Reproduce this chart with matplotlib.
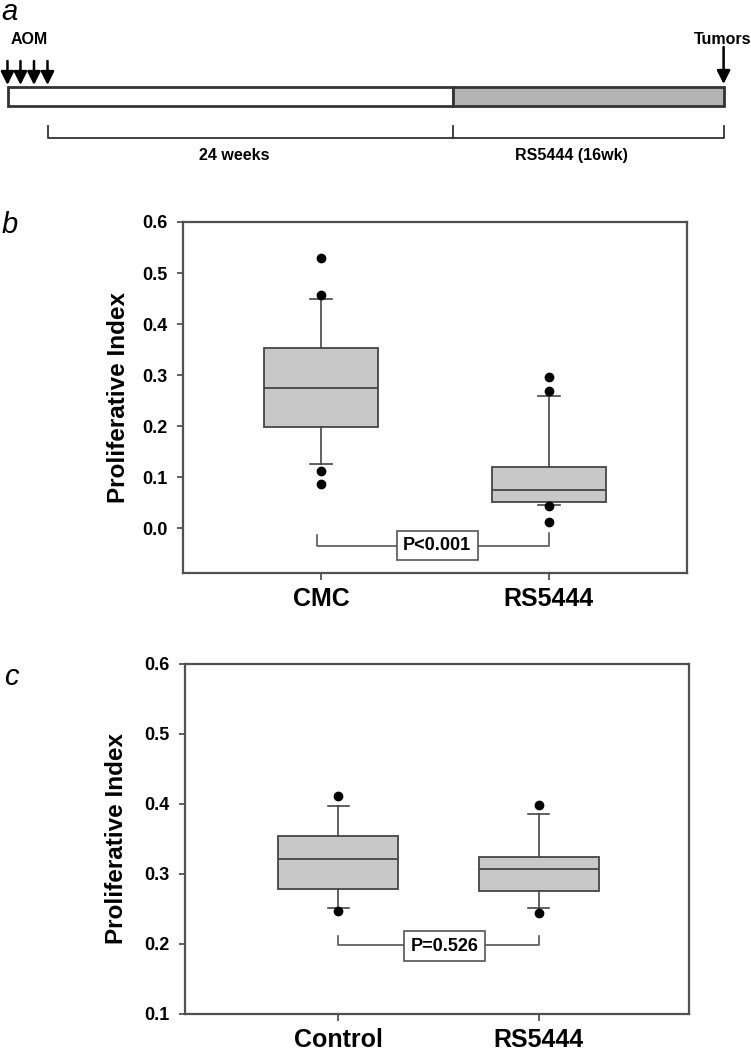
import matplotlib.pyplot as plt
from matplotlib.patches import Rectangle
from matplotlib.ticker import FormatStrFormatter

plt.rcParams['font.family'] = ['Liberation Sans', 'DejaVu Sans']

# ---------------------------------
# Datos panel a (semanas)
# ---------------------------------
fases = ['24 weeks', 'RS5444 (16wk)']
fases_sem = [24, 16]
aom_sem = [-2.40, -1.63, -0.83, -0.03]

# ---------------------------------
# Datos panel b
# ---------------------------------
grupos_b = ['CMC', 'RS5444']
q1_b = [0.199, 0.052]
med_b = [0.275, 0.074]
q3_b = [0.354, 0.120]
whislo_b = [0.125, 0.045]
whishi_b = [0.449, 0.258]
fliers_b = [[0.530, 0.456, 0.112, 0.086], [0.297, 0.269, 0.043, 0.012]]
p_b = 'P<0.001'

# ---------------------------------
# Datos panel c
# ---------------------------------
grupos_c = ['Control', 'RS5444']
q1_c = [0.279, 0.276]
med_c = [0.321, 0.307]
q3_c = [0.355, 0.325]
whislo_c = [0.252, 0.252]
whishi_c = [0.397, 0.386]
fliers_c = [[0.412, 0.247], [0.399, 0.245]]
p_c = 'P=0.526'

gris_caja = '#c8c8c8'
gris_linea = '#454545'

fig = plt.figure(figsize=(7.51, 10.5), dpi=100)

# ---------------------------------
# Panel a: linea de tiempo
# ---------------------------------
px_sem = 16.89
axa = fig.add_axes([0, 1 - 180/1050, 1, 180/1050])
axa.set_xlim(-48/px_sem, (751 - 48)/px_sem)
axa.set_ylim(180, 0)
axa.axis('off')

fin = sum(fases_sem)
inicio = -2.35
axa.add_patch(Rectangle((inicio, 87.3), fases_sem[0] - inicio, 18.7,
                        facecolor='white', edgecolor='#333333', lw=2))
axa.add_patch(Rectangle((fases_sem[0], 87.3), fases_sem[1], 18.7,
                        facecolor='#b4b4b4', edgecolor='#333333', lw=2))

flecha = dict(arrowstyle='-|>,head_width=0.4,head_length=0.8',
              mutation_scale=10, lw=1.8, color='black', shrinkA=0, shrinkB=0)
for w in aom_sem:
    axa.annotate('', xy=(w, 85), xytext=(w, 61), arrowprops=flecha)
axa.annotate('', xy=(fin, 84), xytext=(fin, 47), arrowprops=flecha)

axa.text(-1.12, 39, 'AOM', ha='center', va='center', fontsize=11.5, fontweight='bold')
axa.text((751 - 48)/px_sem, 39, 'Tumors', ha='right', va='center',
         fontsize=11.5, fontweight='bold')

# corchete de fases
axa.plot([0, 0, fin, fin], [126, 138, 138, 126], color='#333333', lw=1.3)
axa.plot([fases_sem[0], fases_sem[0]], [126, 138], color='#333333', lw=1.3)
izq = 0
for nombre, dur in zip(fases, fases_sem):
    axa.text(izq + dur/2 - 1.0, 155, nombre, ha='center', va='center',
             fontsize=11.5, fontweight='bold')
    izq += dur

axa.text(1/px_sem - 48/px_sem, 20.5, 'a', ha='left', va='baseline',
         fontsize=21, style='italic')


# ---------------------------------
# Paneles b y c
# ---------------------------------
def panel(ax, grupos, q1, med, q3, lo, hi, fl, ancho, capw):
    stats = []
    for i in range(len(grupos)):
        stats.append(dict(med=med[i], q1=q1[i], q3=q3[i],
                          whislo=lo[i], whishi=hi[i], fliers=fl[i]))
    ax.bxp(stats, positions=[1, 2], widths=ancho, capwidths=capw,
           patch_artist=True,
           boxprops=dict(facecolor=gris_caja, edgecolor=gris_linea, lw=1.3),
           medianprops=dict(color=gris_linea, lw=1.3),
           whiskerprops=dict(color=gris_linea, lw=1.2),
           capprops=dict(color=gris_linea, lw=1.2),
           flierprops=dict(marker='o', markerfacecolor='black',
                           markeredgecolor='black', markersize=6))
    ax.set_xticks([1, 2])
    ax.set_xticklabels(grupos, fontsize=18, fontweight='bold')
    ax.yaxis.set_major_formatter(FormatStrFormatter('%.1f'))
    for lab in ax.get_yticklabels():
        lab.set_fontweight('bold')
        lab.set_fontsize(13)
    ax.tick_params(axis='y', direction='out', length=4, width=1.2,
                   color=gris_linea, pad=7)
    ax.tick_params(axis='x', direction='out', length=5, width=1.2,
                   color=gris_linea, pad=5)
    for s in ax.spines.values():
        s.set_color('#505050')
        s.set_linewidth(1.6)
    ax.set_ylabel('Proliferative Index', fontsize=17.5, fontweight='bold')


def corchete(ax, x1, x2, ytop1, ytop2, ybot, xt, yt, texto):
    ax.plot([x1, x1, x2, x2], [ytop1, ybot, ybot, ytop2], color='#555555', lw=1.2,
            zorder=2)
    ax.text(xt, yt, texto, ha='center', va='center', fontsize=13, fontweight='bold',
            zorder=3, bbox=dict(boxstyle='square,pad=0.35', facecolor='white',
                                edgecolor='#555555', lw=1.2))


# panel b
axb = fig.add_axes([183/751, 1 - 573/1050, 504/751, 351/1050])
panel(axb, grupos_b, q1_b, med_b, q3_b, whislo_b, whishi_b, fliers_b, 0.5, 0.1)
axb.set_xlim(0.394, 2.606)
axb.set_ylim(-0.088, 0.6)
axb.set_yticks([0.0, 0.1, 0.2, 0.3, 0.4, 0.5, 0.6])
axb.yaxis.set_label_coords(-0.105, 0.5)
corchete(axb, 0.98, 2.0, -0.014, -0.010, -0.035, 1.51, -0.034, p_b)
fig.text(2/751, 1 - 233/1050, 'b', fontsize=21, style='italic', ha='left', va='baseline')

# panel c
axc = fig.add_axes([185/751, 1 - 1014/1050, 504/751, 350/1050])
panel(axc, grupos_c, q1_c, med_c, q3_c, whislo_c, whishi_c, fliers_c, 0.6, 0.105)
axc.set_xlim(0.237, 2.749)
axc.set_ylim(0.1, 0.6)
axc.set_yticks([0.1, 0.2, 0.3, 0.4, 0.5, 0.6])
axc.yaxis.set_label_coords(-0.113, 0.5)
corchete(axc, 1.0, 2.0, 0.212, 0.211, 0.199, 1.53, 0.197, p_c)
fig.text(4/751, 1 - 685/1050, 'c', fontsize=21, style='italic', ha='left', va='baseline')

fig.savefig('out.png', dpi=100)
